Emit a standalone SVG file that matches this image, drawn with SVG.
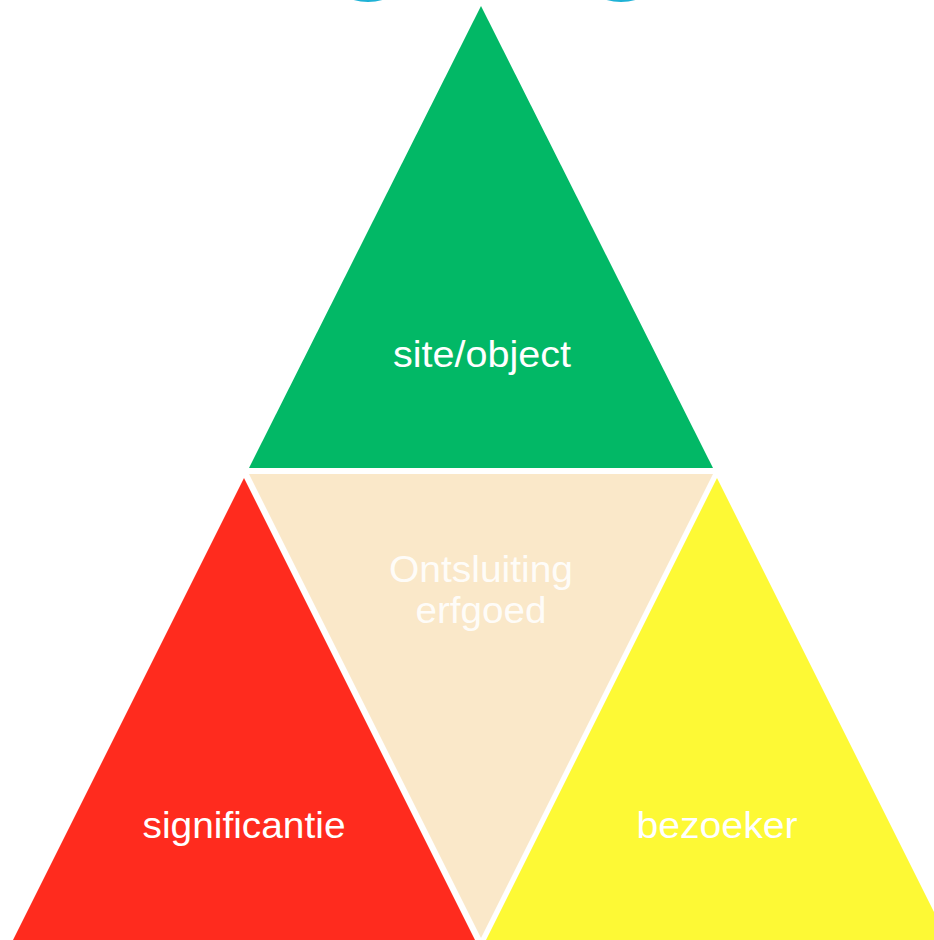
<svg xmlns="http://www.w3.org/2000/svg" width="934" height="940" viewBox="0 0 934 940">
<style>
.lbl{font-family:"Liberation Sans",Arial,sans-serif;font-size:37px;fill:#ffffff;text-anchor:middle}
.faint{fill:#ffffff;fill-opacity:0.9}
</style>
<rect x="0" y="0" width="934" height="940" fill="#ffffff"/>
<g id="title-fragments" fill="#1fb2d6">
<ellipse cx="368" cy="-28" rx="40" ry="30"/>
<ellipse cx="621" cy="-28" rx="40" ry="30"/>
<ellipse cx="368" cy="-28" rx="30" ry="26" fill="#ffffff"/>
<ellipse cx="621" cy="-28" rx="30" ry="26" fill="#ffffff"/>
</g>
<g id="node-site">
<polygon points="481,6 713,468 249,468" fill="#02b866"/>
<text class="lbl" x="482" y="367" textLength="178" lengthAdjust="spacingAndGlyphs">site/object</text>
</g>
<g id="node-center">
<polygon points="249,474 713,474 481,938" fill="#fae8c9"/>
<text class="lbl faint" x="481" y="582" textLength="184" lengthAdjust="spacingAndGlyphs">Ontsluiting</text>
<text class="lbl faint" x="481" y="623" textLength="131" lengthAdjust="spacingAndGlyphs">erfgoed</text>
</g>
<g id="node-significantie">
<polygon points="244,478 475,940 13,940" fill="#ff2b1e"/>
<text class="lbl" x="244" y="838" textLength="203" lengthAdjust="spacingAndGlyphs">significantie</text>
</g>
<g id="node-bezoeker">
<polygon points="717,478 948,940 486,940" fill="#fdf935"/>
<text class="lbl" x="717" y="838" textLength="161" lengthAdjust="spacingAndGlyphs">bezoeker</text>
</g>
<g id="connectors"></g>
</svg>
